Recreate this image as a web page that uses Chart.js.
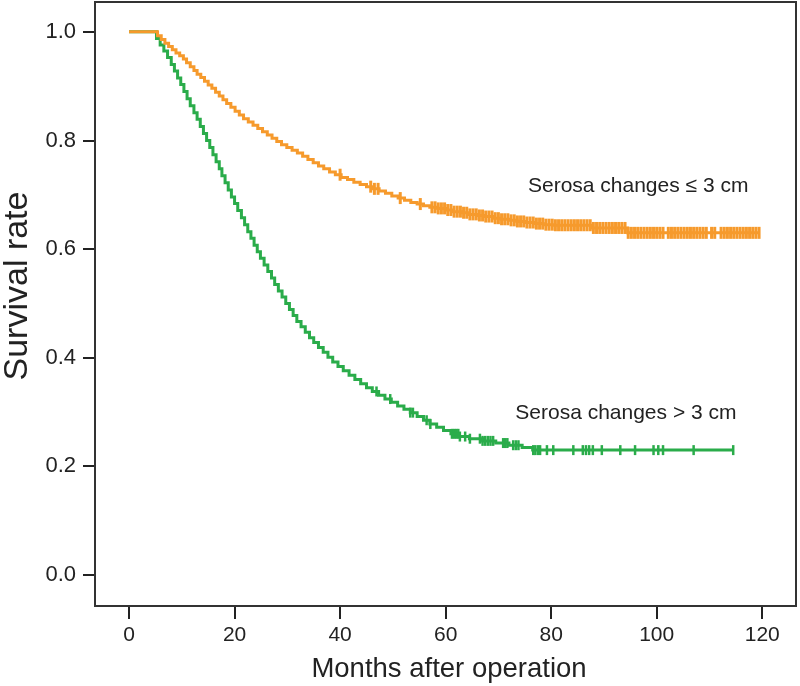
<!DOCTYPE html>
<html>
<head>
<meta charset="utf-8">
<script src="https://cdn.jsdelivr.net/npm/chart.js@4/dist/chart.umd.min.js"></script>
<style>
  html, body { margin: 0; padding: 0; background: #fff; }
  canvas { display: block; }
</style>
</head>
<body>
<canvas id="kmChart" width="800" height="686"></canvas>
<script>
// Kaplan-Meier curves (months, survival rate)
const xTicks = [0, 20, 40, 60, 80, 100, 120];
const yTicks = [0, 0.2, 0.4, 0.6, 0.8, 1.0];

// Serosa changes > 3 cm (green)
const greenTimes = [0, 5.2, 5.9, 6.6, 7.3, 8.0, 8.6, 9.2, 9.8, 10.4, 11.0, 11.6, 12.3, 12.9, 13.5, 14.1, 14.7, 15.3,
  15.9, 16.5, 17.1, 17.6, 18.2, 18.8, 19.4, 20.0, 20.6, 21.3, 21.9, 22.5, 23.1, 23.7, 24.3, 24.9, 25.6, 26.3,
  27.0, 27.6, 28.3, 29.0, 29.7, 30.4, 31.1, 31.8, 32.6, 33.4, 34.2, 35.0, 35.9, 36.8, 37.7, 38.6, 39.6, 40.6,
  41.7, 42.8, 43.9, 45.0, 46.1, 47.3, 48.5, 49.7, 50.9, 52.1, 53.3, 54.6, 55.8, 57.0, 58.3, 59.6, 61.0, 62.5,
  64.5, 67.0, 69.5, 72.0, 74.5, 76.5, 114.5];
const greenSurv = [1.0, 0.988, 0.976, 0.965, 0.953, 0.940, 0.928, 0.915, 0.903, 0.890, 0.877, 0.864, 0.851, 0.839, 0.826, 0.813, 0.800, 0.787,
  0.774, 0.761, 0.748, 0.735, 0.722, 0.709, 0.696, 0.684, 0.671, 0.658, 0.645, 0.632, 0.620, 0.607, 0.595, 0.583, 0.571, 0.559,
  0.547, 0.535, 0.523, 0.512, 0.500, 0.489, 0.478, 0.467, 0.457, 0.447, 0.437, 0.428, 0.419, 0.410, 0.401, 0.392, 0.384, 0.376,
  0.368, 0.360, 0.352, 0.345, 0.338, 0.331, 0.324, 0.318, 0.311, 0.305, 0.299, 0.292, 0.285, 0.278, 0.272, 0.266, 0.260, 0.255,
  0.251, 0.247, 0.243, 0.239, 0.235, 0.230, 0.230];
const greenCensor = [46.9, 49.5, 53.3, 53.8, 56.4, 57.1, 61.2, 61.6, 62.0, 62.4, 62.7, 63.7, 64.6, 66.5, 67.0, 67.5,
  68.0, 68.5, 69.0, 70.9, 71.3, 71.7, 72.8, 73.3, 73.8, 76.6, 77.0, 77.5, 77.9, 79.2, 80.4, 84.2, 86.0, 86.6,
  87.2, 87.9, 89.6, 93.1, 95.9, 99.4, 100.3, 101.2, 107.0, 114.5];

// Serosa changes <= 3 cm (orange)
const orangeTimes = [0, 5.4, 6.1, 6.8, 7.5, 8.2, 8.9, 9.6, 10.3, 10.9, 11.6, 12.3, 12.9, 13.6, 14.3, 15.0, 15.7, 16.4,
  17.1, 17.8, 18.5, 19.3, 20.1, 20.9, 21.7, 22.6, 23.5, 24.4, 25.3, 26.2, 27.1, 28.0, 28.9, 29.9, 30.9, 31.9,
  32.9, 33.9, 34.9, 35.9, 36.9, 38.0, 39.1, 40.2, 41.4, 42.6, 43.8, 45.0, 46.2, 47.4, 48.6, 49.8, 51.0, 52.2,
  53.4, 54.6, 55.8, 57.0, 58.5, 60.0, 61.5, 63.0, 64.5, 66.0, 67.5, 69.0, 70.5, 72.0, 73.5, 75.0, 76.7, 78.5,
  80.5, 87.5, 94.5, 119.5];
const orangeSurv = [1.0, 0.993, 0.986, 0.979, 0.973, 0.967, 0.961, 0.956, 0.950, 0.943, 0.936, 0.929, 0.922, 0.916, 0.909, 0.902, 0.896, 0.889,
  0.882, 0.875, 0.868, 0.861, 0.854, 0.847, 0.840, 0.834, 0.828, 0.822, 0.816, 0.810, 0.804, 0.798, 0.792, 0.787, 0.782, 0.777,
  0.771, 0.765, 0.759, 0.753, 0.748, 0.742, 0.737, 0.732, 0.728, 0.723, 0.719, 0.715, 0.711, 0.707, 0.703, 0.698, 0.694, 0.690,
  0.686, 0.683, 0.680, 0.677, 0.675, 0.672, 0.669, 0.667, 0.664, 0.662, 0.660, 0.657, 0.655, 0.653, 0.651, 0.649, 0.647, 0.645,
  0.644, 0.639, 0.630, 0.630];
const orangeCensor = [40.0, 45.8, 46.5, 47.2, 51.4, 55.2, 57.4,
  58.0, 58.6, 59.2, 59.8, 60.4, 61.0, 61.6, 62.2, 62.8, 63.4, 64.0, 64.6, 65.2, 65.8, 66.4, 67.0, 67.6, 68.2,
  68.8, 69.4, 70.0, 70.6, 71.2, 71.8, 72.4, 73.0, 73.6, 74.2, 74.8, 75.4, 76.0, 76.6, 77.2, 77.8, 78.4, 79.0,
  79.6, 80.2, 80.8, 81.4, 82.0, 82.6, 83.2, 83.8, 84.4, 85.0, 85.6, 86.2, 86.8, 87.4, 88.0, 88.6, 89.2, 89.8,
  90.4, 91.0, 91.6, 92.2, 92.8, 93.4, 94.0, 94.6, 95.2, 95.8, 96.4, 97.0, 97.6, 98.2, 98.8, 99.4, 100.0, 100.6,
  101.2, 102.2, 102.8, 103.4, 104.0, 104.6, 105.2, 105.8, 106.4, 107.0, 107.6, 108.2, 108.8, 109.4, 110.4, 111.0,
  112.2, 112.8, 113.4, 114.0, 114.6, 115.2, 115.8, 116.4, 117.0, 117.6, 118.2, 118.8, 119.4];

const GREEN = '#2aac4a';
const ORANGE = '#f69a2c';
const FONT = '"Liberation Sans", Arial, sans-serif';

// survival value of a step curve at time t (for placing censor marks)
function survAt(times, surv, t) {
  let v = surv[0];
  for (let i = 0; i < times.length; i++) {
    if (times[i] <= t) v = surv[i];
  }
  return v;
}

function curve(times, surv) {
  return times.map((t, i) => ({ x: t, y: surv[i] }));
}

function censorPts(marks, times, surv) {
  return marks.map(t => ({ x: t, y: survAt(times, surv, t) }));
}

function stepLine(data, color) {
  return {
    type: 'line', data: data, borderColor: color, borderWidth: 3,
    stepped: true, pointRadius: 0, fill: false, showLine: true
  };
}

function censorSet(data, color, r, w) {
  return {
    type: 'scatter', data: data, borderColor: color, backgroundColor: color,
    pointStyle: 'line', rotation: 90, radius: r, borderWidth: w, showLine: false
  };
}

// no extra room for tick labels, the plot box is fixed
function noPad(s) {
  s.paddingTop = 0; s.paddingBottom = 0; s.paddingLeft = 0; s.paddingRight = 0;
}

// box around the plot area, axis titles and curve labels
const framePlugin = {
  id: 'frame',
  afterDatasetsDraw(chart) {
    const { ctx, chartArea: a, scales } = chart;
    ctx.save();
    ctx.strokeStyle = '#333';
    ctx.lineWidth = 2;
    ctx.strokeRect(a.left, a.top, a.right - a.left, a.bottom - a.top);

    ctx.fillStyle = '#222';
    ctx.textBaseline = 'middle';
    ctx.textAlign = 'center';
    ctx.font = '27.5px ' + FONT;
    ctx.fillText('Months after operation', 449, 669);

    ctx.save();
    ctx.translate(18, 286);
    ctx.rotate(-Math.PI / 2);
    ctx.font = '34px ' + FONT;
    ctx.fillText('Survival rate', 0, 0);
    ctx.restore();

    ctx.font = '21px ' + FONT;
    ctx.textAlign = 'left';
    ctx.fillText('Serosa changes \u2264 3 cm', scales.x.getPixelForValue(75.6), scales.y.getPixelForValue(0.715));
    ctx.fillText('Serosa changes > 3 cm', scales.x.getPixelForValue(73.2), scales.y.getPixelForValue(0.298));
    ctx.restore();
  }
};

new Chart(document.getElementById('kmChart'), {
  data: {
    datasets: [
      stepLine(curve(orangeTimes, orangeSurv), ORANGE),
      censorSet(censorPts(orangeCensor, orangeTimes, orangeSurv), ORANGE, 6, 3),
      stepLine(curve(greenTimes, greenSurv), GREEN),
      censorSet(censorPts(greenCensor, greenTimes, greenSurv), GREEN, 5, 2.5)
    ]
  },
  options: {
    responsive: false,
    animation: false,
    layout: { autoPadding: false, padding: { left: 0, top: 2, right: 4, bottom: 0 } },
    plugins: { legend: { display: false }, tooltip: { enabled: false } },
    scales: {
      x: {
        type: 'linear', min: -6.45, max: 126.4,
        afterBuildTicks: s => { s.ticks = xTicks.map(v => ({ value: v })); },
        afterFit: s => { s.height = 80; noPad(s); },
        ticks: { color: '#222', font: { size: 21, family: FONT }, padding: 4 },
        grid: { drawOnChartArea: false, drawTicks: true, tickLength: 13, color: '#222', lineWidth: 2 },
        border: { display: false }
      },
      y: {
        type: 'linear', min: -0.057, max: 1.055,
        afterBuildTicks: s => { s.ticks = yTicks.map(v => ({ value: v })); },
        afterFit: s => { s.width = 95; noPad(s); },
        ticks: { color: '#222', font: { size: 22, family: FONT }, padding: 7, callback: v => v.toFixed(1) },
        grid: { drawOnChartArea: false, drawTicks: true, tickLength: 12, color: '#222', lineWidth: 2 },
        border: { display: false }
      }
    }
  },
  plugins: [framePlugin]
});
</script>
</body>
</html>
